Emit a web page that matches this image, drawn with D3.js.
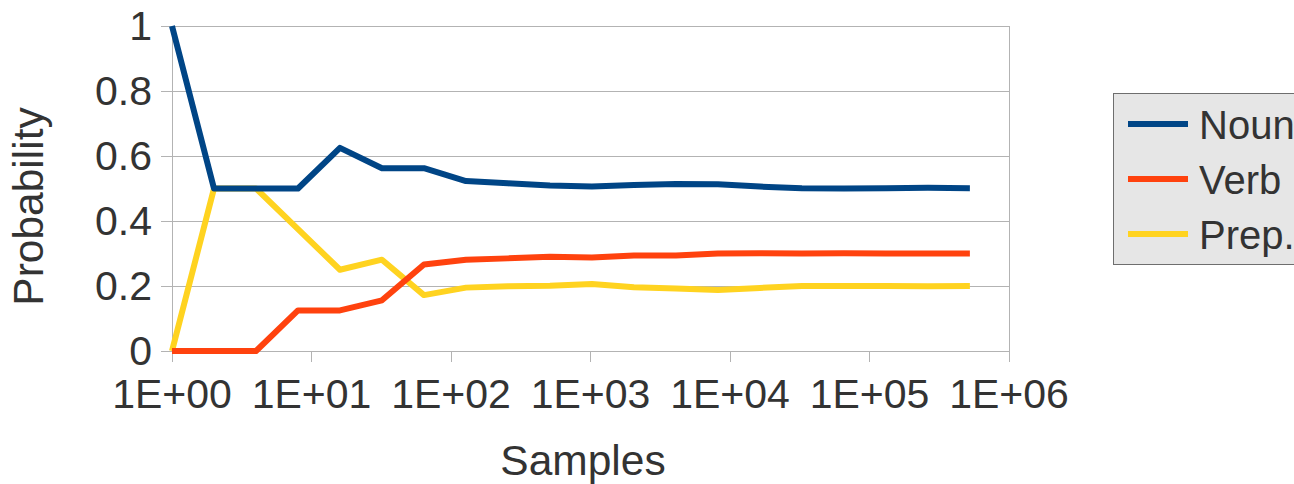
<!DOCTYPE html>
<html><head><meta charset="utf-8">
<script src="https://cdn.jsdelivr.net/npm/d3@7"></script>
<style>
html,body{margin:0;padding:0;background:#fff;}
svg{display:block;font-family:"Liberation Sans",Arial,sans-serif;}
</style></head>
<body><svg id="c" width="1294" height="484"></svg>
<script>
const samples = [1,2,4,8,16,32,64,128,256,512,1024,2048,4096,8192,16384,32768,65536,131072,262144,524288];
const noun = [1,0.5,0.5,0.5,0.625,0.5625,0.5625,0.523,0.516,0.509,0.506,0.511,0.514,0.513,0.506,0.501,0.5,0.501,0.502,0.501];
const verb = [0,0,0,0.125,0.125,0.156,0.266,0.281,0.285,0.29,0.288,0.294,0.294,0.3,0.301,0.3,0.301,0.3,0.3,0.3];
const prep = [0,0.5,0.5,0.375,0.25,0.281,0.172,0.195,0.199,0.201,0.206,0.196,0.192,0.188,0.194,0.2,0.2,0.2,0.199,0.2];
const seriesNames = ["Noun","Verb","Prep."];
const seriesColors = ["#004586","#ff420e","#ffd320"];
const xTicks = [1,10,100,1000,10000,100000,1000000];
const xTickLabels = ["1E+00","1E+01","1E+02","1E+03","1E+04","1E+05","1E+06"];
const yTicks = [0,0.2,0.4,0.6,0.8,1];
const yTickLabels = ["0","0.2","0.4","0.6","0.8","1"];

const series = [noun, verb, prep].map((v,i)=>({name:seriesNames[i], color:seriesColors[i], values:v}));
const svg = d3.select("#c");
const L=172, R=1009, T=26, B=351;
const x = d3.scaleLog().domain([1,1e6]).range([L,R]);
const y = d3.scaleLinear().domain([0,1]).range([B,T]);
const grid="#b3b3b3", txt="#333333";

// gridlines
svg.append("g").selectAll("line").data(yTicks).join("line")
  .attr("x1",L-11).attr("x2",R).attr("y1",d=>y(d)).attr("y2",d=>y(d))
  .attr("stroke",grid).attr("stroke-width",1).attr("shape-rendering","crispEdges");
svg.append("line").attr("x1",R).attr("x2",R).attr("y1",T).attr("y2",B+11)
  .attr("stroke",grid).attr("shape-rendering","crispEdges");
svg.append("line").attr("x1",L).attr("x2",L).attr("y1",T).attr("y2",B+11)
  .attr("stroke",grid).attr("shape-rendering","crispEdges");
svg.append("g").selectAll("line").data(xTicks).join("line")
  .attr("x1",d=>x(d)).attr("x2",d=>x(d)).attr("y1",B).attr("y2",B+11)
  .attr("stroke",grid).attr("shape-rendering","crispEdges");

// y tick labels
svg.append("g").selectAll("text").data(yTicks).join("text")
  .attr("x",152).attr("y",d=>y(d)).attr("dy","0.35em")
  .attr("text-anchor","end").attr("font-size",41).attr("fill",txt)
  .text((d,i)=>yTickLabels[i]);
// x tick labels
svg.append("g").selectAll("text").data(xTicks).join("text")
  .attr("x",d=>x(d)).attr("y",408)
  .attr("text-anchor","middle").attr("font-size",41).attr("fill",txt)
  .text((d,i)=>xTickLabels[i]);

// axis titles
svg.append("text").attr("x",583).attr("y",475).attr("text-anchor","middle")
  .attr("font-size",42.5).attr("fill",txt).text("Samples");
svg.append("text").attr("transform","translate(43,206.5) rotate(-90)")
  .attr("text-anchor","middle").attr("font-size",42.5).attr("fill",txt).text("Probability");

// lines (drawn in reverse so Noun is on top)
const line = d3.line().x((d,i)=>x(samples[i])).y(d=>y(d));
svg.append("g").selectAll("path").data(series.slice().reverse()).join("path")
  .attr("d",d=>line(d.values)).attr("fill","none")
  .attr("stroke",d=>d.color).attr("stroke-width",6)
  .attr("stroke-linejoin","round");

// legend
const lg = svg.append("g");
lg.append("rect").attr("x",1113.5).attr("y",93.5).attr("width",300).attr("height",171)
  .attr("fill","#e6e6e6").attr("stroke","#6e6e6e").attr("stroke-width",1);
const items = lg.selectAll("g.item").data(series).join("g").attr("class","item")
  .attr("transform",(d,i)=>`translate(0,${124+i*55})`);
items.append("line").attr("x1",1128).attr("x2",1188).attr("y1",0).attr("y2",0)
  .attr("stroke",d=>d.color).attr("stroke-width",6);
items.append("text").attr("x",1199).attr("y",15).attr("font-size",40).attr("fill",txt)
  .text(d=>d.name);
</script></body></html>
